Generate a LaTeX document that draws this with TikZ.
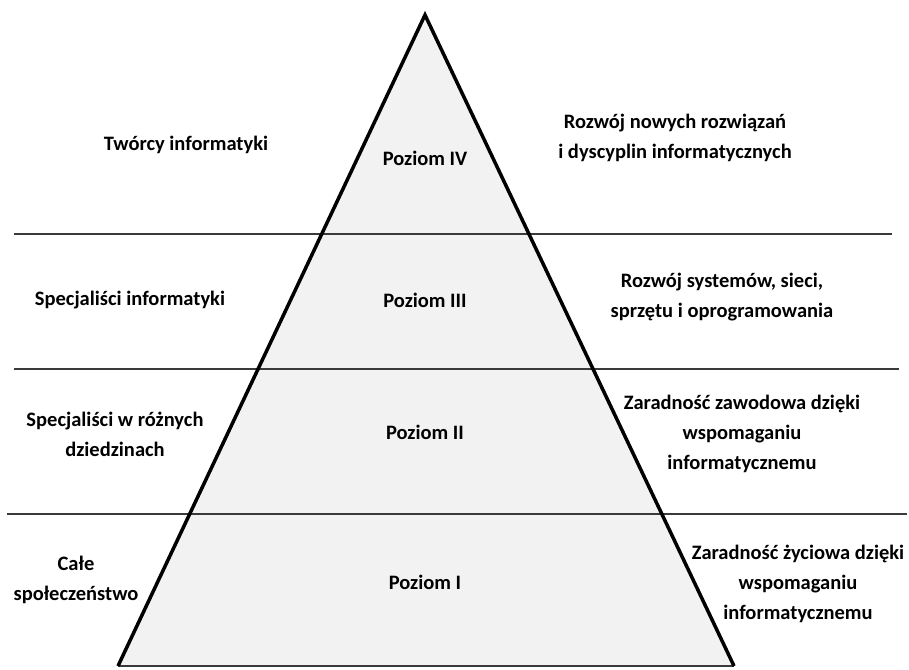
\documentclass[tikz,border=0pt]{standalone}
\usepackage{fontspec}
\setmainfont{Carlito}
\usepackage{xcolor}
\definecolor{pyrfill}{HTML}{F2F2F2}
\definecolor{rulegray}{HTML}{3A3A3A}
\tikzset{
    label/.style={font=\bfseries\fontsize{20.5}{30}\selectfont, align=center, inner sep=0pt},
    divider/.style={line width=1.8pt, rulegray},
}

\begin{document}
\begin{tikzpicture}[x=1pt, y=-1pt]
            \useasboundingbox (0, 0) rectangle (909, 669);
            \coordinate (apex) at (425, 15);
            \coordinate (baseL) at (118, 666);
            \coordinate (baseR) at (734, 666);
            \fill[pyrfill] (apex) -- (baseL) -- (baseR) -- cycle;
            \draw[divider] (14, 234) -- (892, 234);
            \draw[divider] (14, 369) -- (899, 369);
            \draw[divider] (7, 514) -- (907, 514);
            \draw[divider] (baseL) -- (baseR);
            \draw[line width=3.5pt, black, line join=miter] (baseL) -- (apex) -- (baseR);
            % levels
            \node[label] (poz4) at (425, 158) {Poziom IV};
            \node[label] (poz3) at (425, 300) {Poziom III};
            \node[label] (poz2) at (425, 432) {Poziom II};
            \node[label] (poz1) at (425, 582) {Poziom I};
            % who
            \node[label] (kto4) at (186, 145) {Twórcy informatyki};
            \node[label] (kto3) at (130, 300) {Specjaliści informatyki};
            \node[label] (kto2) at (115, 434) {Specjaliści w różnych\\dziedzinach};
            \node[label] (kto1) at (76, 580) {Całe\\społeczeństwo};
            % what
            \node[label] (cel4) at (675, 138) {Rozwój nowych rozwiązań\\i dyscyplin informatycznych};
            \node[label] (cel3) at (722, 297) {Rozwój systemów, sieci,\\sprzętu i oprogramowania};
            \node[label] (cel2) at (742, 434) {Zaradność zawodowa dzięki\\wspomaganiu\\informatycznemu};
            \node[label] (cel1) at (798, 584) {Zaradność życiowa dzięki\\wspomaganiu\\informatycznemu};
        \end{tikzpicture}
\end{document}
